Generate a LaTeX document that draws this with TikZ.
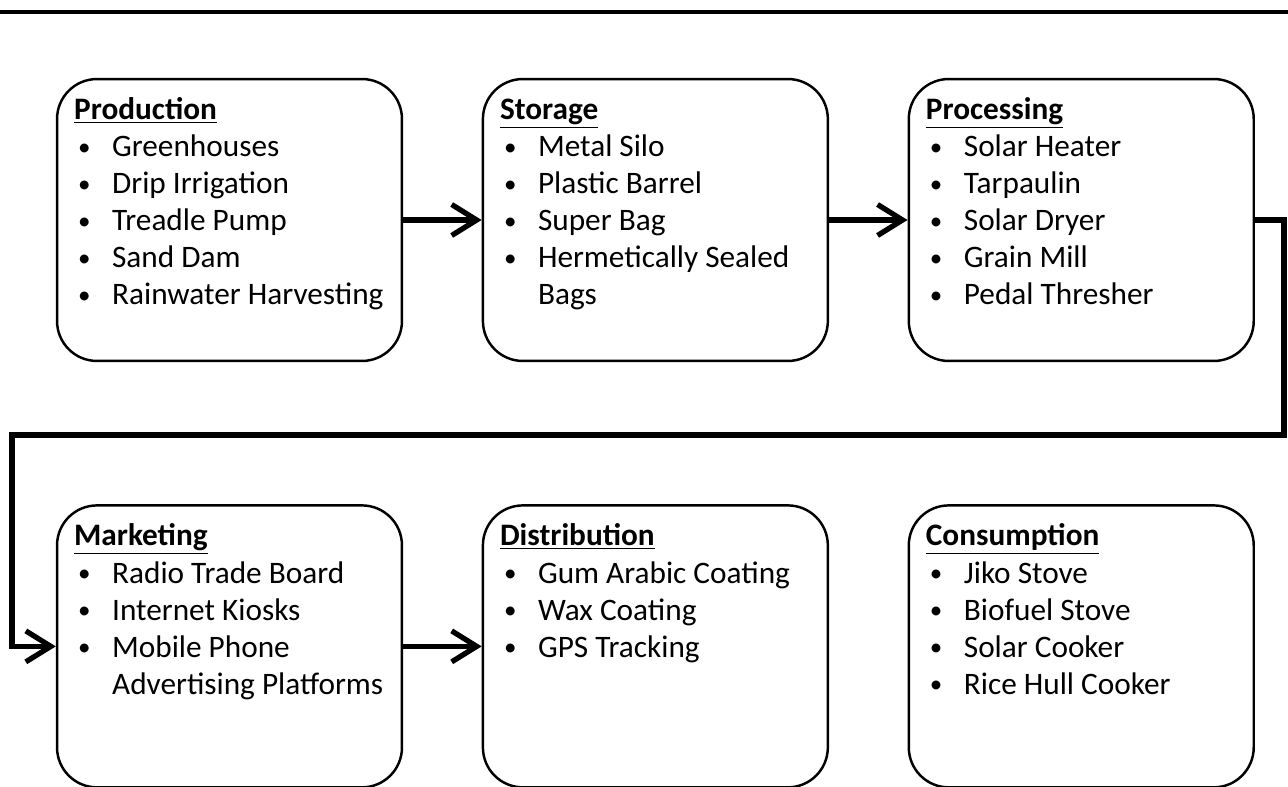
\documentclass[tikz,border=0pt]{standalone}
\usepackage{fontspec}
\setmainfont{Carlito}
\usepackage{tikz}
\usetikzlibrary{arrows.meta, positioning}

\newcommand{\itm}[1]{\makebox[0.76cm][l]{\hspace{0.08cm}\raisebox{0.05em}{\scalebox{0.8}{\textbullet}}}#1}
\newcommand{\cont}[1]{\makebox[0.76cm][l]{}#1}
\newcommand{\ttl}[1]{\strut\underline{\textbf{#1}}}

\begin{document}
\begin{tikzpicture}
                            [x=0.02cm, y=-0.02cm,
                             box/.style={draw, rounded corners=0.8cm, line width=1.4pt,
                                         minimum width=6.9cm, minimum height=5.64cm},
                             list/.style={inner sep=0pt, align=left, anchor=north west,
                                          font=\fontsize{17.8}{21.1}\selectfont},
                             flow/.style={line width=3pt, -{Straight Barb[length=0.5cm, width=0.62cm]}}]
    \useasboundingbox (0,0) rectangle (1288,787);
    \draw[line width=2.2pt] (0,12) coordinate (rule-l) -- (1288,12) coordinate (rule-r);

    % top row
    \node[box] (prod) at (229.5,220) {};
    \node[box, right=1.57cm of prod] (stor) {};
    \node[box, right=1.57cm of stor] (proc) {};
    % bottom row
    \node[box, below=2.84cm of prod] (mark) {};
    \node[box, below=2.84cm of stor] (dist) {};
    \node[box, below=2.84cm of proc] (cons) {};

    \node[list, below right=0.31cm and 0.36cm of prod.north west] (prod-list)
        {\ttl{Production}\\ \itm{Greenhouses}\\ \itm{Drip Irrigation}\\
         \itm{Treadle Pump}\\ \itm{Sand Dam}\\ \itm{Rainwater Harvesting}};
    \node[list, below right=0.31cm and 0.36cm of stor.north west] (stor-list)
        {\ttl{Storage}\\ \itm{Metal Silo}\\ \itm{Plastic Barrel}\\
         \itm{Super Bag}\\ \itm{Hermetically Sealed}\\ \cont{Bags}};
    \node[list, below right=0.31cm and 0.36cm of proc.north west] (proc-list)
        {\ttl{Processing}\\ \itm{Solar Heater}\\ \itm{Tarpaulin}\\
         \itm{Solar Dryer}\\ \itm{Grain Mill}\\ \itm{Pedal Thresher}};
    \node[list, below right=0.31cm and 0.36cm of mark.north west] (mark-list)
        {\ttl{Marketing}\\ \itm{Radio Trade Board}\\ \itm{Internet Kiosks}\\
         \itm{Mobile Phone}\\ \cont{Advertising Platforms}};
    \node[list, below right=0.31cm and 0.36cm of dist.north west] (dist-list)
        {\ttl{Distribution}\\ \itm{Gum Arabic Coating}\\ \itm{Wax Coating}\\
         \itm{GPS Tracking}};
    \node[list, below right=0.31cm and 0.36cm of cons.north west] (cons-list)
        {\ttl{Consumption}\\ \itm{Jiko Stove}\\ \itm{Biofuel Stove}\\
         \itm{Solar Cooker}\\ \itm{Rice Hull Cooker}};

    \draw[flow] (prod) -- (stor);
    \draw[flow] (stor) -- (proc);
    \draw[flow, line join=miter] (proc.east) -- (proc.east -| 1284,0) coordinate (turn-r)
        -- (turn-r |- 0,435) -- (12,435) coordinate (turn-l) |- (mark.west);
    \draw[flow] (mark) -- (dist);
\end{tikzpicture}
\end{document}
